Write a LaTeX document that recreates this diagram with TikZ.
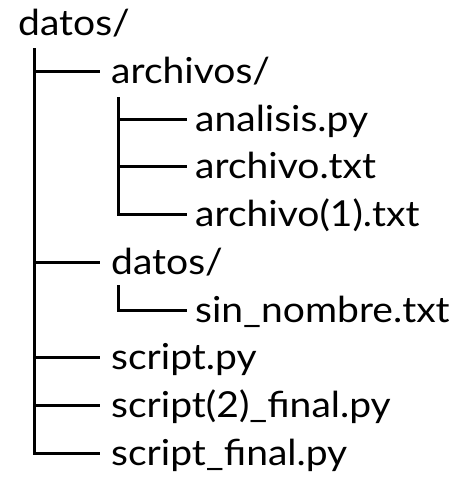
\documentclass[tikz,border=0pt]{standalone}
\usepackage{fontspec}
\setmainfont[FakeStretch=1.09]{Lato}
\begin{document}
\begin{tikzpicture}[x=1pt,y=-1pt,
  entry/.style={anchor=west,inner sep=0pt,text height=24pt,text depth=0pt,
    font=\fontsize{35.8}{40}\selectfont},
  branch/.style={line width=3pt,line join=miter},
  lvlone/.style={branch,shorten >=11.5pt},
  lvltwo/.style={branch,shorten >=8.5pt}]
  \useasboundingbox (0,0) rectangle (456,477);
  % root folder
  \node[entry] (root) at (18,23.5) {datos/};
  % first level
  \node[entry] (arch) at (111,71.25) {archivos/};
  \node[entry] (ana)  at (195,119) {analisis.py};
  \node[entry] (arc)  at (195,166.75) {archivo.txt};
  \node[entry] (arc1) at (195,214.5) {archivo(1).txt};
  \node[entry] (dat)  at (111,262.25) {datos/};
  \node[entry] (sin)  at (195,310) {sin\_nombre.txt};
  \node[entry] (scr)  at (111,357.75) {script.py};
  \node[entry] (scr2) at (111,405.5) {script(2)\_final.py};
  \node[entry] (scrf) at (111,453.25) {script\_final.py};
  % tops of the vertical spines
  \coordinate (sp0) at (34,48);
  \coordinate (sp1) at (118,97);
  \coordinate (sp2) at (118,285);
  % branches of the root
  \foreach \c in {arch,dat,scr,scr2,scrf}
    \draw[lvlone] (sp0) |- (\c.west);
  % branches of archivos/
  \foreach \c in {ana,arc,arc1}
    \draw[lvltwo] (sp1) |- (\c.west);
  % branch of datos/
  \draw[lvltwo] (sp2) |- (sin.west);
\end{tikzpicture}
\end{document}
